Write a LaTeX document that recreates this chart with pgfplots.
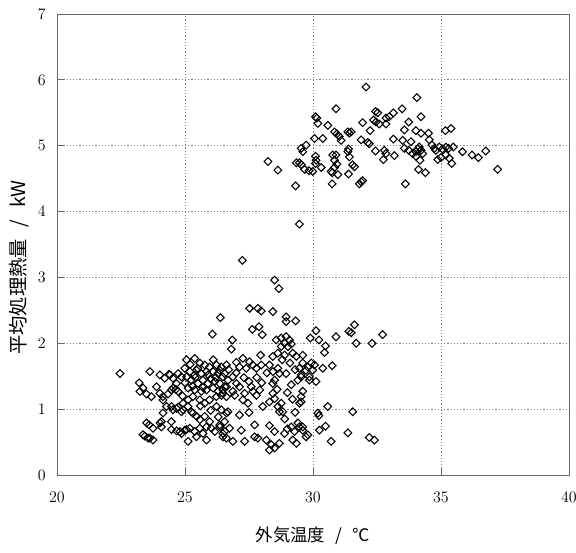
\documentclass[border=0pt]{standalone}
\usepackage{fontspec}
\usepackage{pgfplots}
\pgfplotsset{compat=1.18}
\newfontfamily\cjk{Noto Sans CJK JP}
\pgfplotstableread{
x y
32.07 5.89
34.06 5.73
30.90 5.56
30.10 5.44
30.15 5.42
30.19 5.34
30.58 5.31
32.44 5.52
32.53 5.50
32.36 5.39
32.46 5.36
32.59 5.33
32.85 5.42
32.98 5.44
33.14 5.50
33.48 5.56
31.94 5.35
32.23 5.23
32.85 5.33
33.74 5.36
34.22 5.44
33.57 5.24
34.02 5.23
34.22 5.19
34.51 5.19
35.17 5.23
35.39 5.26
30.84 5.21
30.93 5.18
31.03 5.14
31.10 5.08
31.36 5.21
31.49 5.21
31.42 5.19
30.06 5.11
30.38 5.11
29.73 5.01
29.54 4.96
29.60 4.91
29.47 4.74
29.54 4.71
29.35 4.74
30.10 4.84
30.12 4.78
30.10 4.73
29.67 4.64
29.84 4.62
29.99 4.61
30.32 4.67
29.32 4.39
28.63 4.63
28.24 4.76
29.47 3.81
30.90 4.86
30.84 4.78
30.93 4.72
30.84 4.67
30.97 4.56
30.75 4.59
30.75 4.42
31.39 4.95
31.36 4.91
31.42 4.83
31.55 4.71
31.62 4.68
31.39 4.57
31.81 4.42
31.94 4.47
31.88 5.09
32.14 5.05
32.20 5.03
32.44 4.92
32.79 4.93
32.85 4.88
32.75 4.79
33.18 4.85
33.14 5.10
33.50 5.08
33.57 4.96
33.74 4.93
33.83 5.06
33.89 4.88
34.02 4.91
34.09 4.95
34.15 4.98
34.22 4.93
34.28 4.88
34.02 4.84
34.18 4.78
34.12 4.64
34.39 4.59
33.61 4.42
34.54 5.09
34.65 5.01
34.74 4.96
34.80 4.93
34.93 4.98
35.06 4.95
35.19 4.98
35.30 4.96
35.48 4.98
34.87 4.79
35.00 4.82
35.19 4.86
35.32 4.81
35.42 4.73
35.84 4.91
36.21 4.86
36.46 4.82
36.75 4.92
37.21 4.64
30.77 4.86
30.71 4.61
31.88 4.45
}\upperdata
\pgfplotstableread{
x y
22.46 1.54
23.63 1.57
24.02 1.52
24.21 1.47
24.41 1.52
24.73 1.54
24.86 1.49
25.06 1.75
25.38 1.77
25.58 1.70
25.77 1.67
25.96 1.64
26.23 1.67
26.42 1.64
26.62 1.67
23.21 1.40
23.36 1.32
23.24 1.27
23.50 1.23
23.69 1.19
23.89 1.34
24.02 1.24
24.14 1.19
24.34 1.23
24.47 1.29
24.64 1.30
24.28 1.04
24.47 1.04
24.67 1.01
24.86 0.96
24.14 0.94
24.08 0.81
24.47 0.81
23.50 0.79
23.60 0.76
23.75 0.71
24.02 0.79
24.08 0.73
23.43 0.59
23.63 0.56
23.75 0.53
24.67 0.67
24.86 0.63
25.06 0.69
25.12 0.51
25.31 0.94
25.45 0.89
25.58 0.84
25.77 0.89
25.96 0.81
25.84 0.73
26.03 0.71
26.16 0.66
25.84 0.53
24.92 1.09
25.12 1.14
25.31 1.19
25.58 1.14
25.77 1.09
25.96 1.14
26.23 1.19
26.48 1.24
26.62 1.19
26.23 1.04
26.42 0.99
26.62 0.94
26.55 0.81
26.36 0.73
26.48 0.63
26.62 0.56
24.99 1.62
25.19 1.57
25.38 1.52
25.45 1.59
25.64 1.54
25.84 1.57
26.10 1.57
26.29 1.54
26.48 1.49
25.06 1.49
25.25 1.44
25.51 1.39
25.70 1.44
25.90 1.39
26.16 1.42
26.36 1.39
26.55 1.34
25.12 1.32
25.38 1.29
25.64 1.27
25.84 1.29
26.10 1.32
26.29 1.27
26.48 1.29
26.38 2.39
26.07 2.14
27.24 3.26
28.50 2.96
28.67 2.83
27.52 2.53
27.85 2.53
27.98 2.49
28.43 2.48
28.95 2.40
29.32 2.34
28.95 2.33
27.63 2.21
27.89 2.25
28.02 2.13
26.85 2.05
26.81 1.91
28.56 2.05
28.76 2.08
28.95 2.10
29.08 2.05
28.89 2.00
28.76 1.95
29.02 1.95
29.15 1.99
29.89 2.08
30.12 2.19
30.23 2.05
30.49 1.96
30.45 1.86
30.90 2.10
31.40 2.18
31.62 2.28
31.49 2.16
32.72 2.13
31.69 2.00
32.31 2.00
27.95 1.82
28.43 1.80
28.63 1.85
28.89 1.82
29.21 1.85
29.35 1.80
29.60 1.82
27.01 1.71
27.26 1.77
27.52 1.72
27.65 1.67
27.79 1.62
27.98 1.67
27.13 1.64
27.39 1.62
28.30 1.67
28.43 1.57
28.63 1.62
28.50 1.44
28.43 1.39
28.69 1.54
28.95 1.54
29.15 1.37
29.47 1.62
29.60 1.70
29.80 1.64
29.93 1.70
30.06 1.67
29.86 1.49
30.12 1.42
29.54 1.49
29.41 1.44
29.60 1.27
29.54 1.19
29.47 1.09
30.38 1.62
30.75 1.66
29.99 1.59
29.73 1.59
29.54 1.52
29.86 1.44
29.54 1.11
26.36 1.59
26.55 1.54
26.68 1.44
26.87 1.49
27.01 1.39
26.62 1.34
26.87 1.27
27.13 1.34
27.33 1.24
27.59 1.34
27.65 1.27
27.79 1.21
27.92 1.29
26.42 1.21
26.94 1.21
28.04 1.04
28.30 1.11
28.43 1.24
28.50 1.16
28.63 1.04
28.76 1.09
28.69 0.96
28.82 0.96
30.19 0.94
30.58 1.04
31.55 0.96
30.23 0.90
30.25 0.68
30.49 0.74
30.71 0.51
31.36 0.64
32.20 0.57
32.40 0.53
29.60 0.73
29.73 0.58
26.68 0.96
27.13 0.91
27.72 0.76
27.26 1.14
27.46 1.09
26.36 0.76
26.55 0.66
26.74 0.71
26.48 0.58
26.87 0.51
27.20 0.68
27.33 0.51
27.72 0.58
27.85 0.56
28.18 0.53
28.37 0.46
28.50 0.41
28.69 0.48
28.89 0.63
28.50 0.66
29.15 0.73
29.28 0.66
29.41 0.79
29.47 0.73
29.60 0.68
29.80 0.61
29.21 0.53
29.35 0.48
24.38 1.53
24.53 1.47
24.67 1.39
24.53 1.32
24.73 1.27
24.14 1.14
24.53 0.99
24.73 1.03
24.92 0.99
25.12 1.04
25.25 0.96
23.36 0.61
23.56 0.56
24.47 0.69
24.80 0.66
24.99 0.68
25.19 0.71
25.38 0.66
25.58 0.71
25.70 0.63
25.45 0.58
28.30 0.38
25.20 1.68
25.50 1.62
25.90 1.52
26.00 1.46
25.30 1.35
25.70 1.33
26.20 1.48
25.00 1.40
24.90 1.20
25.60 1.05
26.00 0.98
26.30 0.88
25.40 1.48
26.70 1.60
27.00 1.55
27.30 1.48
27.50 1.42
27.80 1.48
28.00 1.40
28.20 1.55
28.80 1.75
29.10 1.70
29.30 1.60
28.60 1.30
29.00 1.25
29.20 1.15
28.90 0.85
29.30 0.95
29.00 0.70
28.30 0.75
27.50 0.95
26.10 1.75
}\lowerdata
\begin{document}
\begin{tikzpicture}
\begin{axis}[
  scale only axis, width=384pt, height=345.75pt,
  xmin=20, xmax=40, ymin=0, ymax=7,
  xtick={20,25,30,35,40}, ytick={0,1,2,3,4,5,6,7},
  xtick pos=bottom, ytick pos=left,
  tick align=inside, major tick length=5pt,
  axis line style={gray!80!black, line width=0.6pt},
  every tick/.style={gray!80!black, line width=0.6pt},
  grid=major,
  major grid style={gray, dash pattern=on 0.9pt off 1.5pt, line width=0.6pt},
  ticklabel style={font=\fontsize{13}{15}\selectfont},
  xticklabel style={yshift=-9pt},
  yticklabel style={xshift=-5pt},
  xlabel={外気温度\hspace{0.6em}/\hspace{0.6em}℃},
  ylabel={平均処理熱量\hspace{0.6em}/\hspace{0.6em}kW},
  xlabel style={font=\cjk\fontsize{13}{15}\selectfont, yshift=-12pt},
  ylabel style={font=\cjk\fontsize{14.5}{17}\selectfont, at={(ticklabel cs:0.45)}},
]
\addplot[only marks, mark=square, mark size=2.05pt, black,
  mark options={rotate=45, line width=0.8pt}] table[x=x,y=y] {\upperdata};
\addplot[only marks, mark=square, mark size=2.05pt, black,
  mark options={rotate=45, line width=0.8pt}] table[x=x,y=y] {\lowerdata};
\coordinate (a) at (rel axis cs:0,0);
\coordinate (b) at (rel axis cs:1,1);
\end{axis}
\pgfresetboundingbox
\path ([xshift=-42.75pt,yshift=-58.5pt]a) rectangle ([xshift=5.25pt,yshift=10.5pt]b);
\end{tikzpicture}
\end{document}
